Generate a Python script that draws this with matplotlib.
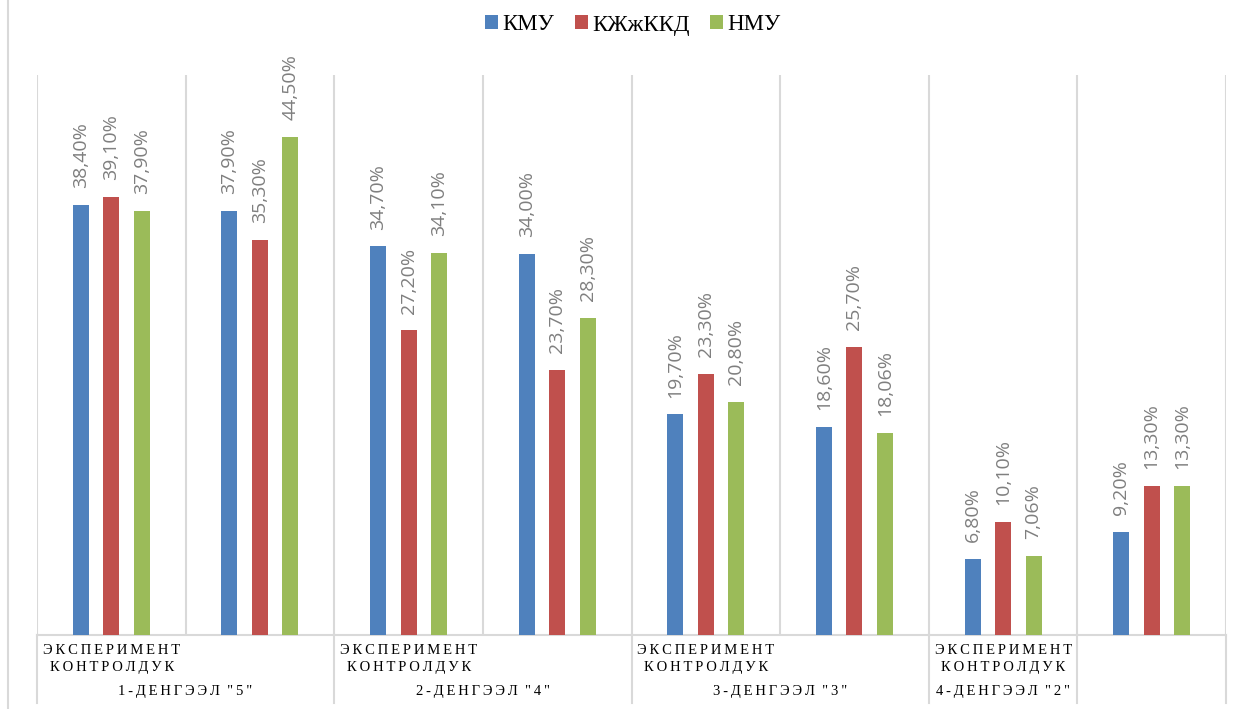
import numpy as np
import matplotlib.pyplot as plt
from matplotlib.lines import Line2D
from matplotlib.transforms import blended_transform_factory

series = ["КМУ", "КЖжККД", "НМУ"]
colors = ["#4f81bd", "#c0504d", "#9bbb59"]
kmu = [38.4, 37.9, 34.7, 34.0, 19.7, 18.6, 6.8, 9.2]
kzh = [39.1, 35.3, 27.2, 23.7, 23.3, 25.7, 10.1, 13.3]
nmu = [37.9, 44.5, 34.1, 28.3, 20.8, 18.06, 7.06, 13.3]
levels = ['1-ДЕНГЭЭЛ "5"', '2-ДЕНГЭЭЛ "4"', '3-ДЕНГЭЭЛ "3"', '4-ДЕНГЭЭЛ "2"']
sub1 = "ЭКСПЕРИМЕНТ"
sub2 = "КОНТРОЛДУК"

W, H = 1243, 709
fig = plt.figure(figsize=(W / 100, H / 100), dpi=100)
ax = fig.add_axes([37 / W, 1 - 635 / H, (1226 - 37) / W, (635 - 75) / H])

grid_c = "#d9d9d9"
x = np.arange(len(kmu))
offs = [-0.205, 0, 0.205]
bw = 0.108
for vals, c, o, name in zip([kmu, kzh, nmu], colors, offs, series):
    ax.bar(x + o, vals, bw, color=c, label=name, zorder=3)
    for xi, v in zip(x + o, vals):
        ax.text(xi, v + 1.5, f"{v:.2f}".replace(".", ",") + "%", rotation=90,
                ha="center", va="bottom", fontsize=14, color="#7f7f7f",
                family="Open Sans")

ax.set_xlim(-0.5, 7.5)
ax.set_ylim(0, 50)
ax.set_xticks([])
ax.set_yticks([])
for s in ["top", "right", "left"]:
    ax.spines[s].set_visible(False)
ax.spines["bottom"].set_color(grid_c)
ax.spines["bottom"].set_linewidth(1.5)
for b in np.arange(-0.5, 8, 1):
    ax.axvline(b, color=grid_c, lw=1.5, zorder=1)

tr = blended_transform_factory(ax.transData, ax.transAxes)
lo = -(703 - 635) / 560
for b in [-0.5, 1.5, 3.5, 5.5, 6.5, 7.5]:
    ax.plot([b, b], [0, lo], color=grid_c, lw=1.5, transform=tr, clip_on=False)

sp = "\u2009"
spaced1 = sp.join(sub1)
spaced2 = sp.join(sub2)
starts = [-0.5, 1.5, 3.5, 5.5]
ends = [1.5, 3.5, 5.5, 6.5]
for st, en, lv in zip(starts, ends, levels):
    ax.text(st + 0.04, -(651 - 635) / 560, spaced1, transform=tr, ha="left",
            va="center", fontsize=10.5, family="Liberation Serif")
    ax.text(st + 0.085, -(668 - 635) / 560, spaced2, transform=tr, ha="left",
            va="center", fontsize=10.5, family="Liberation Serif")
    ax.text((st + en) / 2, -(692 - 635) / 560, sp.join(lv).replace(sp + " " + sp, "  "),
            transform=tr, ha="center", va="center", fontsize=10.5,
            family="Liberation Serif")

fig.add_artist(Line2D([8 / W, 8 / W], [0, 1], color=grid_c, lw=1.5,
                      transform=fig.transFigure))

fig.legend(loc="center", bbox_to_anchor=(633 / W, 1 - 25 / H), ncol=3,
           frameon=False, prop={"family": "Liberation Serif", "size": 16.5},
           handlelength=0.55, handleheight=0.55, handletextpad=0.2,
           columnspacing=0.9)

fig.savefig("out.png", dpi=100)
